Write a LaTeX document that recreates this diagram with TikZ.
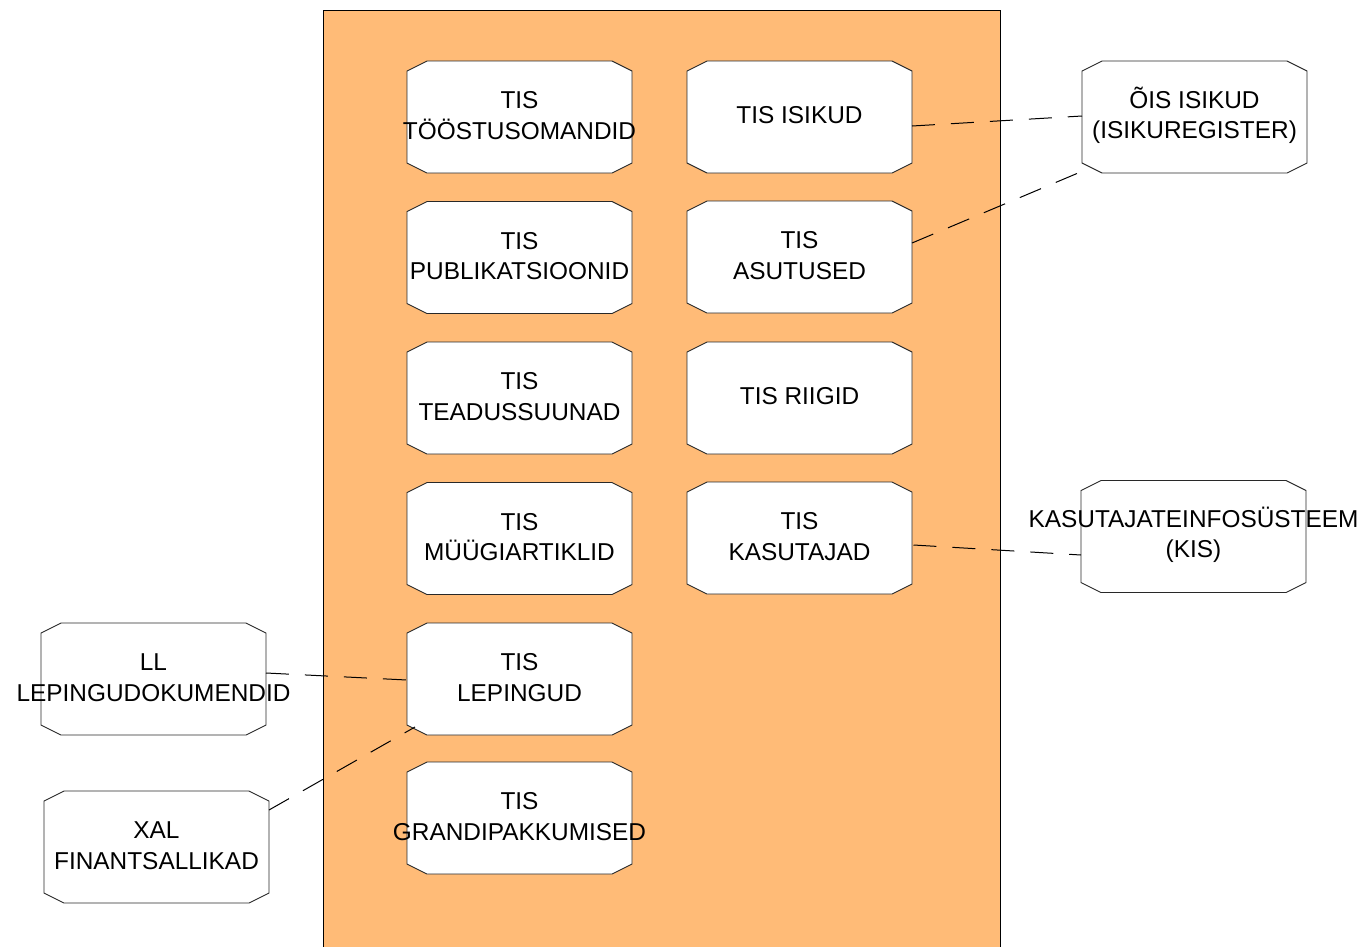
\documentclass[tikz,border=0pt]{standalone}
\usepackage{fontspec}
\setmainfont{Liberation Sans}
\usetikzlibrary{calc}
\definecolor{panel}{RGB}{255,187,119}
\definecolor{edge}{RGB}{40,40,40}
\newcommand{\cl}[1]{\makebox[0pt]{#1}}
% \boxat{name}{x}{y}{text}
\newcommand{\boxat}[4]{%
  \coordinate (#1) at (#2,#3);
  \draw[octo,shift={(#1)}] (-92.5,-56) -- (92.5,-56) -- (112.5,-46) -- (112.5,46)
     -- (92.5,56) -- (-92.5,56) -- (-112.5,46) -- (-112.5,-46) -- cycle;
  \node[txt] (#1-t) at ($(#1)+(0,-1.5)$) {#4};}
\begin{document}
\begin{tikzpicture}[x=1pt,y=-1pt,
  octo/.style={draw=edge, line width=0.9pt, fill=white, line join=miter},
  txt/.style={inner sep=0pt, align=center, font=\fontsize{24.4}{30.5}\selectfont},
  link/.style={draw=black, line width=1pt, dash pattern=on 23pt off 16pt}]
\useasboundingbox (0,0) rectangle (1363,946);
\begin{scope}
\clip (0,0) rectangle (1363,946);
\fill[panel] (323.5,10) rectangle (1000,960);
\draw[line width=0.9pt] (323.5,960) -- (323.5,10) -- (1000,10) -- (1000,960);
\end{scope}
% left inner column
\boxat{too}{519.5}{117}{\cl{TIS}\\\cl{TÖÖSTUSOMANDID}}
\boxat{pub}{519.5}{257.5}{\cl{TIS}\\\cl{PUBLIKATSIOONID}}
\boxat{tea}{519.5}{398}{\cl{TIS}\\\cl{TEADUSSUUNAD}}
\boxat{muu}{519.5}{538.5}{\cl{TIS}\\\cl{MÜÜGIARTIKLID}}
\boxat{lep}{519.5}{679}{\cl{TIS}\\\cl{LEPINGUD}}
\boxat{gra}{519.5}{818}{\cl{TIS}\\\cl{GRANDIPAKKUMISED}}
% right inner column
\boxat{isi}{799.5}{117}{\cl{TIS ISIKUD}}
\boxat{asu}{799.5}{257}{\cl{TIS}\\\cl{ASUTUSED}}
\boxat{rii}{799.5}{398}{\cl{TIS RIIGID}}
\boxat{kas}{799.5}{538}{\cl{TIS}\\\cl{KASUTAJAD}}
% outer
\boxat{ois}{1194.5}{117}{\cl{ÕIS ISIKUD}\\\cl{(ISIKUREGISTER)}}
\boxat{kis}{1193.5}{536.5}{\cl{KASUTAJATEINFOSÜSTEEM}\\\cl{(KIS)}}
\boxat{ll}{153.5}{679}{\cl{LL}\\\cl{LEPINGUDOKUMENDID}}
\boxat{xal}{156.5}{847}{\cl{XAL}\\\cl{FINANTSALLIKAD}}
% connectors
\draw[link] ($(isi)+(112.5,9)$) -- ($(ois)+(-112.5,-1)$);
\draw[link] ($(asu)+(112.5,-14)$) -- ($(ois)+(-104.5,51)$);
\draw[link] ($(kas)+(114,7)$) -- ($(kis)+(-112.5,18.5)$);
\draw[link] ($(ll)+(112.5,-6)$) -- ($(lep)+(-112.5,1)$);
\draw[link] ($(xal)+(112.5,-37)$) -- ($(lep)+(-104.5,48)$);
\end{tikzpicture}
\end{document}
